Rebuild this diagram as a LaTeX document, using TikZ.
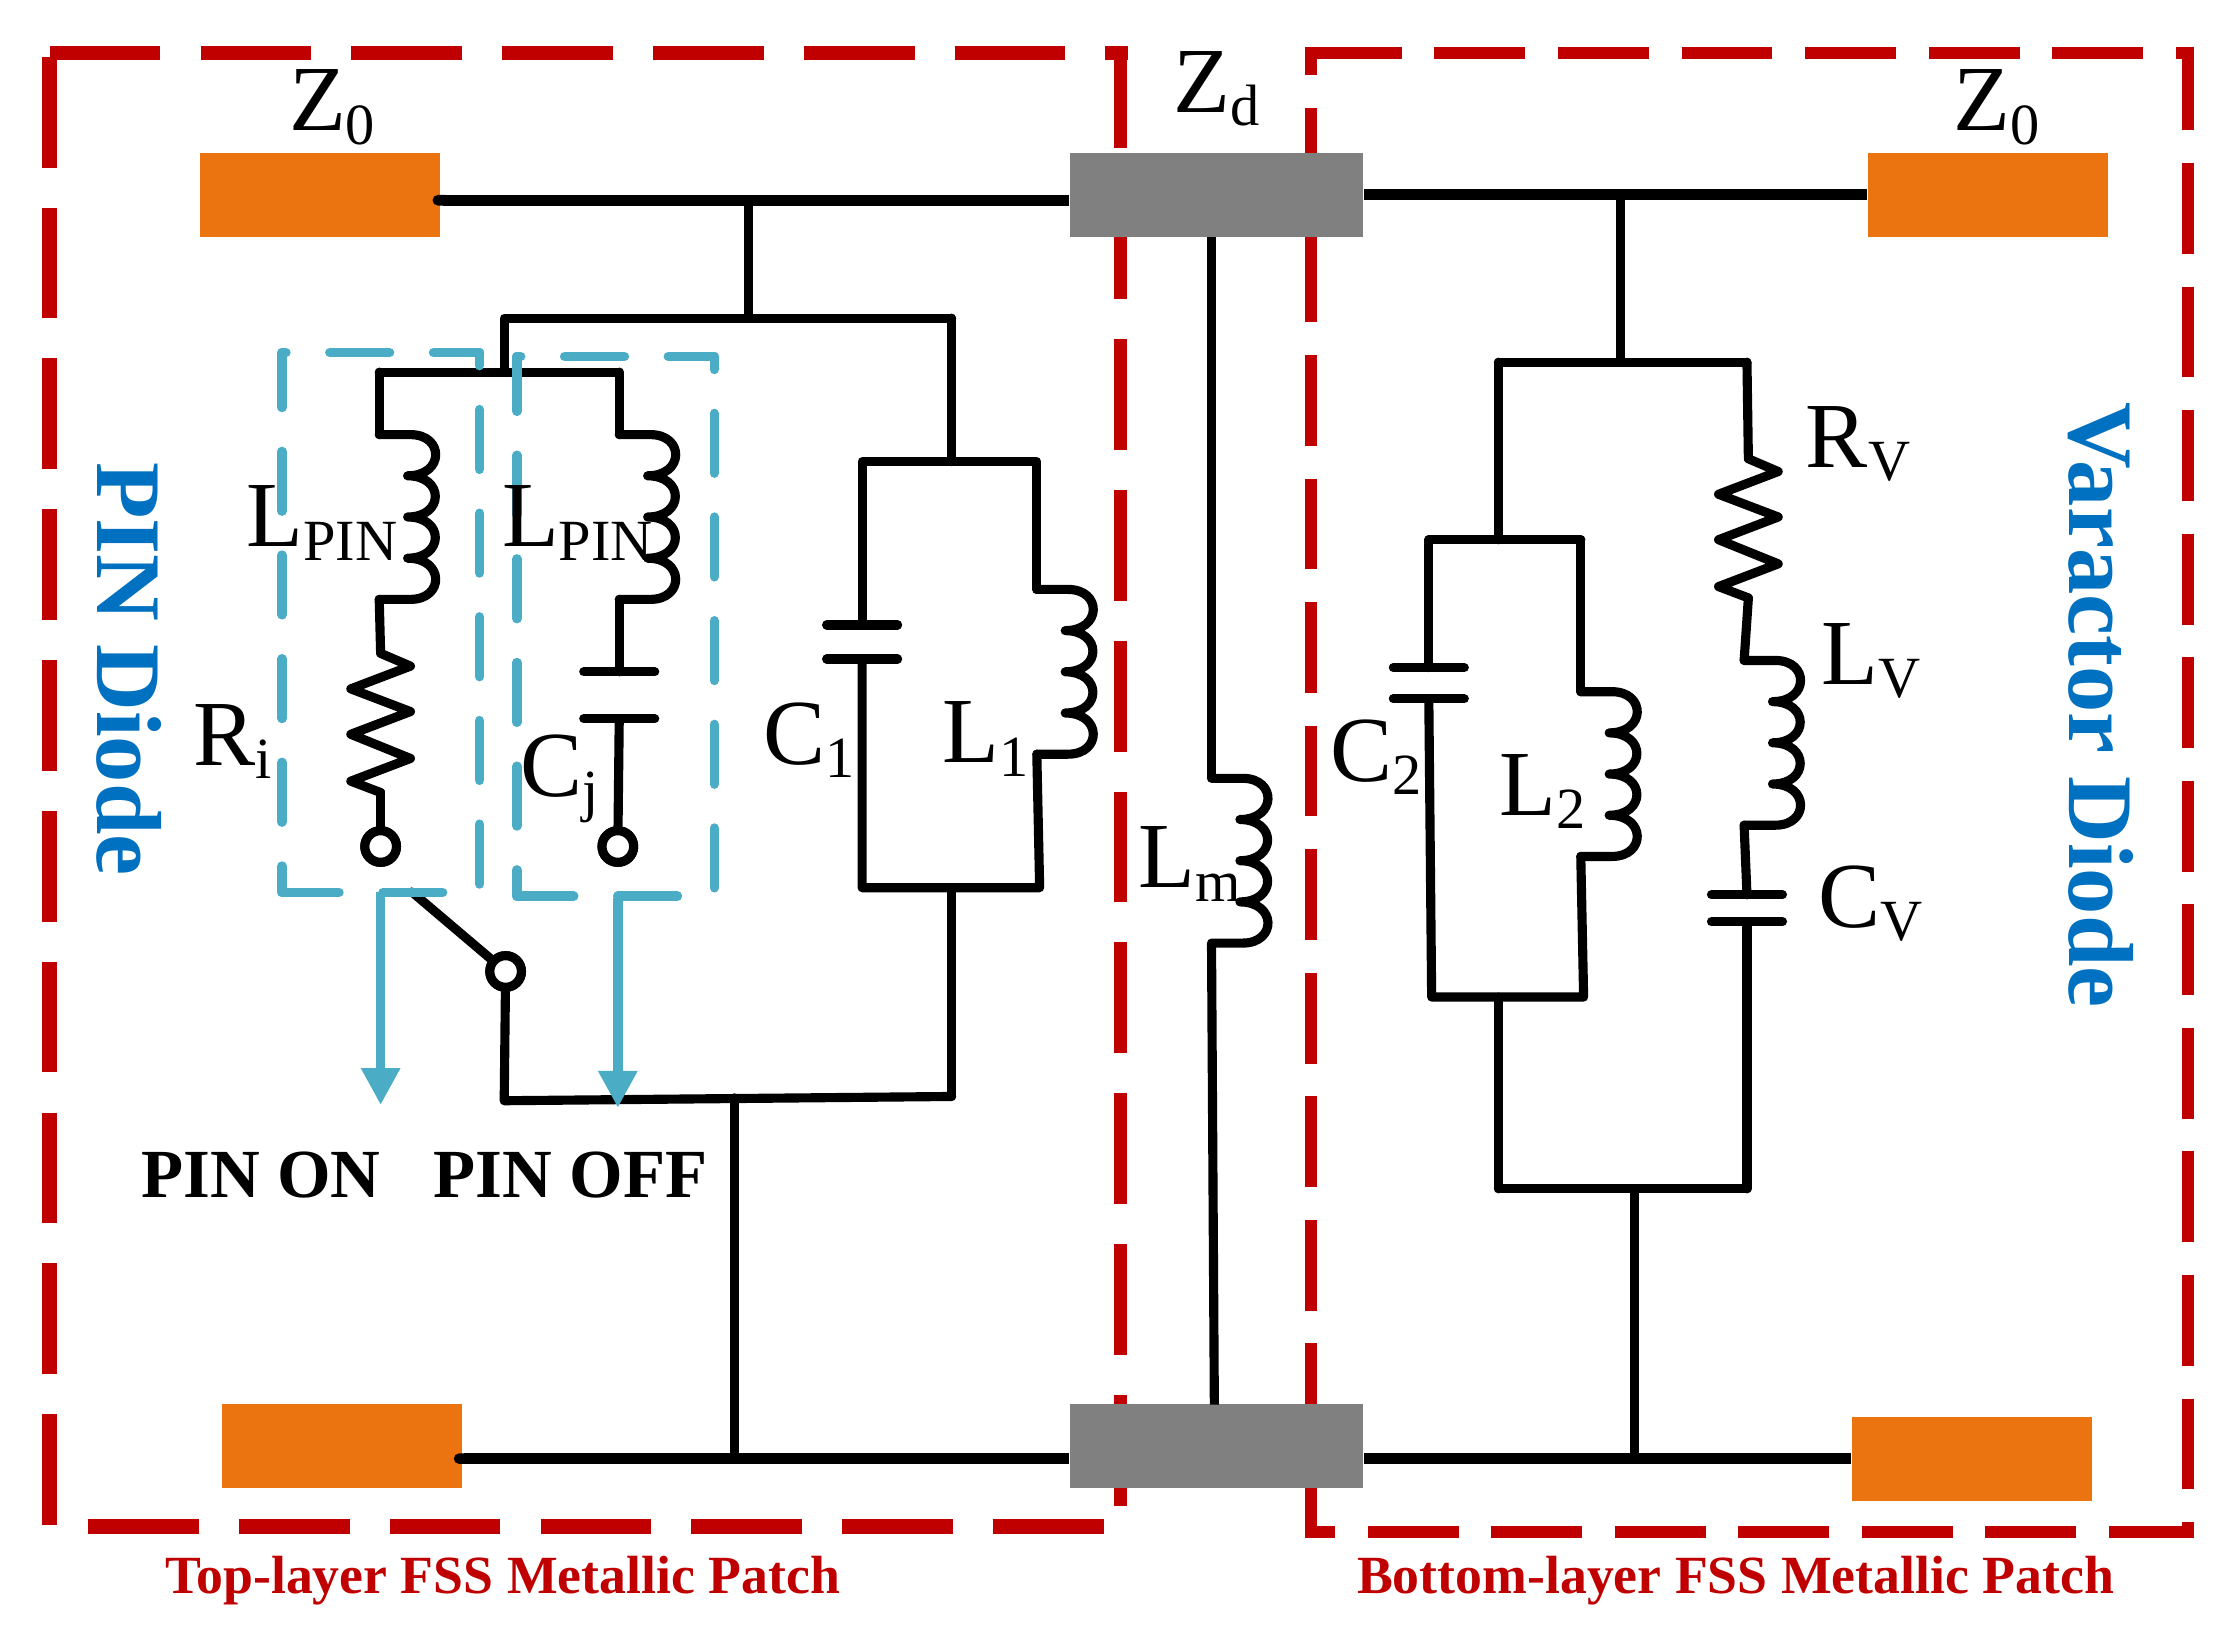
\documentclass[tikz,border=0pt]{standalone}
\usepackage{fontspec}
\setmainfont{Liberation Serif}
\usetikzlibrary{arrows.meta}
\definecolor{frame}{HTML}{C00000}
\definecolor{portc}{HTML}{EB7310}
\definecolor{linec}{HTML}{808080}
\definecolor{boxc}{HTML}{4BACC6}
\definecolor{diodec}{HTML}{0070C0}
\newcommand{\subl}[2]{#1{\fontsize{16.6}{20}\selectfont\raisebox{-3.8pt}{#2}}}
\tikzset{
  wire/.style={line width=2.6pt,line join=round,line cap=round,black},
  bus/.style={line width=3pt,black},
  port/.style={rectangle,fill=portc,inner sep=0,minimum width=2.40cm,minimum height=0.838cm},
  tline/.style={rectangle,fill=linec,inner sep=0,minimum width=2.94cm,minimum height=0.838cm},
  term/.style={circle,draw=black,fill=white,line width=2.6pt,inner sep=0,minimum size=9pt},
  lbl/.style={anchor=base west,inner sep=0,font=\fontsize{26.5}{30}\selectfont},
  bold/.style={anchor=base west,inner sep=0,font=\bfseries\fontsize{19.6}{24}\selectfont},
  vert/.style={anchor=base west,inner sep=0,rotate=-90,text=diodec,font=\bfseries\fontsize{26.3}{30}\selectfont},
  patch/.style={anchor=base west,inner sep=0,text=frame,font=\bfseries\fontsize{15.3}{18}\selectfont},
  % left frame: long dashes, right frame: shorter ones
  framea/.style={frame,dash pattern=on 31.52pt off 11.4pt},
  frameb/.style={frame,line width=3.41pt,dash pattern=on 25.86pt off 9.3pt},
  bdash/.style={boxc,line width=2.7pt,line cap=round,dash pattern=on 17pt off 12.5pt},
  barrow/.style={boxc,line width=2.7pt,-{Triangle[length=10.5pt,width=10.5pt]}},
  pics/coil/.style={code={
    \coordinate (-top) at (0,0);
    \coordinate (-bot) at (0,116);
    \draw[wire] (-top) -- (22,0)
      .. controls (46,0) and (46,29) .. (20,29)
      .. controls (46,29) and (46,58) .. (20,58)
      .. controls (46,58) and (46,87) .. (20,87)
      .. controls (46,87) and (46,116) .. (22,116) -- (-bot);
  }},
  pics/resi/.style={code={
    \coordinate (-top) at (0,0);
    \coordinate (-bot) at (0,98);
    \draw[wire] (-top) -- (21,9) -- (-21,25) -- (21,41) -- (-21,57)
      -- (21,74) -- (-21,90) -- (-bot);
  }},
  pics/capa/.style={code={
    \coordinate (-top) at (0,0);
    \coordinate (-bot) at (0,#1);
    \draw[wire] (-25,0) -- (25,0);
    \draw[wire] (-25,#1) -- (25,#1);
  }},
  pics/pinbox/.style={code={
    \draw[bdash,dash phase=1.4pt] (0,0) -- (0,380);
    \draw[bdash,dash phase=0.8pt] (0,380) -- (117,380);
    \draw[bdash,dash phase=13.3pt] (139,0) -- (139,377);
    \draw[bdash,dash phase=15.9pt] (0,0) -- (139,0);
  }},
}
\begin{document}
\begin{tikzpicture}[x=0.014203cm,y=-0.014203cm]
\useasboundingbox (0,0) rectangle (1568,1149);

% red frames
\coordinate (fa1) at (35,37.3);
\coordinate (fa2) at (794,37.3);
\coordinate (fa3) at (35,40);
\coordinate (fa4) at (35,1074);
\coordinate (fa5) at (789,33);
\coordinate (fa6) at (789,1060);
\coordinate (fa7) at (62,1074.8);
\coordinate (fa8) at (778,1074.8);
\draw[framea,line width=4pt] (fa1) -- (fa2);
\draw[framea,line width=4.2pt] (fa3) -- (fa4);
\draw[framea,line width=3.9pt,dash phase=2.67pt] (fa5) -- (fa6);
\draw[framea,line width=4.3pt] (fa7) -- (fa8);
\coordinate (fb1) at (923,37.3);
\coordinate (fb2) at (1545,37.3);
\coordinate (fb3) at (923,33);
\coordinate (fb4) at (923,1083);
\coordinate (fb5) at (1540.5,33);
\coordinate (fb6) at (1540.5,1083);
\coordinate (fb7) at (919,1078.7);
\coordinate (fb8) at (1545,1078.7);
\draw[frameb] (fb1) -- (fb2);
\draw[frameb,dash phase=17.8pt] (fb3) -- (fb4);
\draw[frameb,dash phase=2.1pt] (fb5) -- (fb6);
\draw[frameb,dash phase=17.4pt] (fb7) -- (fb8);

% ports and transmission line
\node[port] (tl) at (225.5,137.5) {};
\node[port] (tr) at (1399.5,137.5) {};
\node[port] (bl) at (240.5,1018) {};
\node[port] (br) at (1388.5,1027) {};
\node[tline] (gt) at (856.5,137.5) {};
\node[tline] (gb) at (856.5,1018) {};

% left network
\coordinate (j1) at (527,141);
\coordinate (j2) at (527,224);
\coordinate (a1) at (355,224);
\coordinate (a2) at (670,224);
\coordinate (a3) at (355,262);
\coordinate (b1) at (267,262);
\coordinate (b2) at (436,262);
\draw[bus,{Round Cap[]}-] ([xshift=-2.4pt]tl.east |- j1) -- (j1) -- (gt.west |- j1);
\draw[wire] (j1) -- (j2);
\draw[wire] (a3) -- (a1) -- (a2);
\draw[wire] (b1) -- (b2);

% PIN on branch
\pic (lp1) at (267,306) {coil};
\pic (ri) at (268,460) {resi};
\node[term] (t1) at (268,596) {};
\draw[wire] (b1) -- (lp1-top);
\draw[wire] (lp1-bot) -- (ri-top);
\draw[wire] (ri-bot) -- (t1);
\node[term] (t1) at (268,596) {};

% PIN off branch
\pic (lp2) at (436,306) {coil};
\pic (cj) at (436,473) {capa=33};
\node[term] (t2) at (435,596) {};
\draw[wire] (b2) -- (lp2-top);
\draw[wire] (lp2-bot) -- (cj-top);
\draw[wire] (cj-bot) -- (t2);
\node[term] (t2) at (435,596) {};

% switch
\coordinate (s0) at (290,628);
\coordinate (d3) at (355,775);
\coordinate (d2) at (517,773);
\coordinate (d1) at (670,772);
\node[term] (sw) at (356,684) {};
\draw[wire] (s0) -- (sw);
\draw[wire] (sw) -- (d3) -- (d1);
\node[term] (sw) at (356,684) {};

% C1 // L1
\coordinate (c1) at (670,325);
\coordinate (c2) at (607,325);
\coordinate (c3) at (730,325);
\coordinate (c4) at (732,625);
\coordinate (c5) at (670,625);
\coordinate (c6) at (607,625);
\pic (cc1) at (607,440) {capa=24};
\pic (l1) at (730,415) {coil};
\draw[wire] (a2) -- (c1);
\draw[wire] (cc1-top) -- (c2) -- (c3) -- (l1-top);
\draw[wire] (cc1-bot) -- (c6) -- (c4) -- (l1-bot);
\draw[wire] (c5) -- (d1);

% lower left bus
\coordinate (e1) at (517,1027);
\draw[bus,{Round Cap[]}-] ([xshift=-2.4pt]bl.east |- e1) -- (e1) -- (gb.west |- e1);
\draw[wire] (d2) -- (e1);

% shunt Lm
\coordinate (m0) at (853,167);
\coordinate (m2) at (855,989);
\pic (lm) at (853,548) {coil};
\draw[wire,line cap=butt] (m0) -- (lm-top);
\draw[wire,line cap=butt] (lm-bot) -- (m2);

% right network
\coordinate (k1) at (1141,137);
\coordinate (k2) at (1141,255);
\coordinate (k3) at (1055,255);
\coordinate (k4) at (1230,255);
\coordinate (k5) at (1055,380);
\coordinate (k6) at (1006,380);
\coordinate (k7) at (1113,380);
\coordinate (k8) at (1008,702);
\coordinate (k9) at (1115,702);
\coordinate (k10) at (1055,702);
\coordinate (k11) at (1055,837);
\coordinate (k12) at (1230,837);
\coordinate (k13) at (1151,837);
\coordinate (k14) at (1151,1027);
\draw[bus] (gt.east |- k1) -- (k1) -- (tr.west |- k1);
\draw[wire] (k1) -- (k2);
\draw[wire] (k3) -- (k4);
\draw[wire] (k3) -- (k5);
\draw[wire] (k6) -- (k7);
\pic (cc2) at (1006,470) {capa=22};
\pic (l2) at (1113,487) {coil};
\draw[wire] (k6) -- (cc2-top);
\draw[wire] (k7) -- (l2-top);
\draw[wire] (cc2-bot) -- (k8) -- (k9) -- (l2-bot);
\draw[wire] (k10) -- (k11);
\draw[wire] (k11) -- (k12);
\draw[wire] (k13) -- (k14);
\draw[bus] (gb.east |- k14) -- (k14) -- (br.west |- k14);
\pic (rv) at (1231,323) {resi};
\pic (lv) at (1228,465) {coil};
\pic (cv) at (1230,630) {capa=19};
\draw[wire] (k4) -- (rv-top);
\draw[wire] (rv-bot) -- (lv-top);
\draw[wire] (lv-bot) -- (cv-top);
\draw[wire] (cv-bot) -- (k12);

% blue diode boxes and state arrows
\pic at (198.6,248.3) {pinbox};
\pic at (363.9,251) {pinbox};
\coordinate (ar1) at (268,628);
\coordinate (ar2) at (268,778);
\coordinate (ar3) at (435,632);
\coordinate (ar4) at (435,780);
\draw[barrow] (ar1) -- (ar2);
\draw[barrow] (ar3) -- (ar4);

% labels
\node[lbl] (z0l) at (203,92) {\subl{Z}{0}};
\node[lbl] (zd) at (826,79) {\subl{Z}{d}};
\node[lbl] (z0r) at (1375,92) {\subl{Z}{0}};
\node[lbl] (llp1) at (173,385) {\subl{L}{PIN}};
\node[lbl] (llp2) at (353,385) {\subl{L}{PIN}};
\node[lbl] (lri) at (136,539) {\subl{R}{i}};
\node[lbl] (lcj) at (366,561) {\subl{C}{j}};
\node[lbl] (lc1) at (537,538) {\subl{C}{1}};
\node[lbl] (ll1) at (663,537) {\subl{L}{1}};
\node[lbl] (llm) at (801,625) {\subl{L}{m}};
\node[lbl] (lc2) at (936,550) {\subl{C}{2}};
\node[lbl] (ll2) at (1055,574) {\subl{L}{2}};
\node[lbl] (lrv) at (1271,329) {\subl{R}{V}};
\node[lbl] (llv) at (1282,482) {\subl{L}{V}};
\node[lbl] (lcv) at (1280,653) {\subl{C}{V}};
\node[bold] (pon) at (99,843) {PIN ON};
\node[bold] (pof) at (305,843) {PIN OFF};
\node[vert] (vpin) at (69,325) {PIN Diode};
\node[vert] (vvar) at (1457,283) {Varactor Diode};
\node[patch] (ptop) at (116,1122) {Top-layer FSS Metallic Patch};
\node[patch] (pbot) at (955,1122) {Bottom-layer FSS Metallic Patch};
\end{tikzpicture}
\end{document}
